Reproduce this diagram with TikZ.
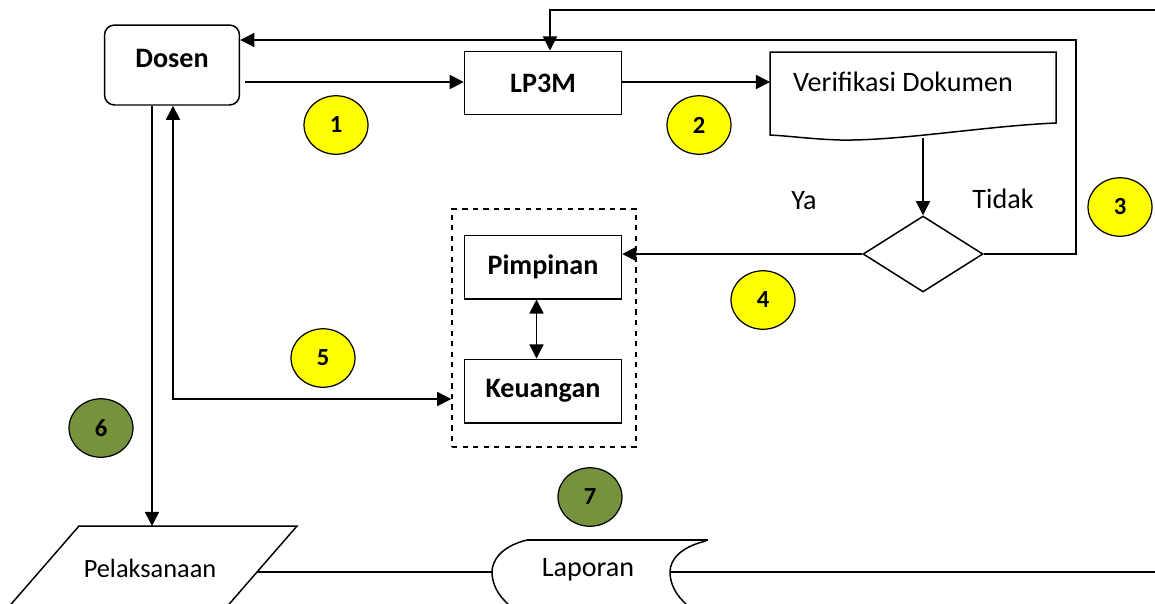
\documentclass[tikz,border=0pt]{standalone}
\usepackage{fontspec}
\setmainfont{Carlito}
\usetikzlibrary{arrows.meta,shapes.geometric}
\definecolor{markyellow}{HTML}{FFFF00}
\definecolor{markgreen}{HTML}{76923C}

\begin{document}
\begin{tikzpicture}[x=0.02cm, y=-0.02cm, line width=0.85pt,
    arr/.style={-{Triangle[length=8pt,width=8pt]}},
    dblarr/.style={{Triangle[length=8pt,width=8pt]}-{Triangle[length=8pt,width=8pt]}},
    procbox/.style={draw, minimum width=3.14cm, minimum height=1.27cm, inner sep=0pt, font=\fontsize{16}{19}\selectfont\bfseries},
    plain/.style={inner sep=0pt, font=\fontsize{16}{19}\selectfont},
    badge/.style={ellipse, draw, line width=0.7pt, minimum width=1.28cm, minimum height=1.17cm, inner sep=0pt, font=\fontsize{14}{16}\selectfont\bfseries},
  ]
  \useasboundingbox (0,0) rectangle (1155,603);
  \clip (0,0) rectangle (1155,603);

  % Main nodes
  \node[draw, rounded corners=0.2cm, minimum width=2.7cm, minimum height=1.6cm,
        label={[font=\fontsize{16}{19}\selectfont\bfseries, yshift=0.14cm]center:Dosen}] (dosen) at (172,65) {};
  \node[procbox] (lp3m) at (543,83) {LP3M};
  \node[plain] (verif) at (903,82) {Verifikasi Dokumen};
  \node[diamond, draw, minimum width=2.4cm, minimum height=1.52cm, inner sep=0pt] (dec) at (923,254) {};
  \node[plain] (ya) at (804,201) {Ya};
  \node[plain] (tidak) at (1003,199) {Tidak};

  % Pimpinan / Keuangan group
  \node[draw, dashed, minimum width=3.68cm, minimum height=4.76cm] (grp) at (544,328) {};
  \node[procbox] (pimp) at (543,267) {Pimpinan};
  \node[procbox] (keu) at (543,391) {Keuangan};

  % Outputs
  \node[plain, font=\fontsize{15}{18}\selectfont] (pel) at (150,568) {Pelaksanaan};
  \node[plain] (lap) at (588,570) {Laporan};

  % Shape outlines
  \draw (770,52) -- (1056,52) -- (1056,123)
    .. controls (985,126) and (900,141) .. (840,140)
    .. controls (810,139) and (790,136) .. (770,135) -- cycle;
  \draw (79,526) -- (297,526) -- (224,610) -- (6,610) -- cycle;
  \draw (527,540) -- (708,540);
  \draw (527,540) .. controls (502,546) and (492,560) .. (492,572)
    .. controls (492,588) and (502,600) .. (515,610);
  \draw (706,541) .. controls (680,547) and (670,560) .. (670,572)
    .. controls (670,588) and (680,600) .. (693,610);

  % Helper coordinates
  \coordinate (verifL) at (770,82);
  \coordinate (verifB) at (923,138);
  \coordinate (loopR) at (1076,40);
  \coordinate (topR) at (1155,10);
  \coordinate (topL) at (550,10);
  \coordinate (pelT) at (152,526);
  \coordinate (pelR) at (257,572);
  \coordinate (lapL) at (492,572);
  \coordinate (lapR) at (670,572);
  \coordinate (endR) at (1155,572);
  \coordinate (back) at (173,399);

  % Connections
  \draw[arr] (dosen.east |- verifL) ++(0.1cm,0) -- (verifL -| lp3m.west);
  \draw[arr] (verifL -| lp3m.east) -- (verifL);
  \draw[arr] (verifB) -- (dec.north);
  \draw[arr] (dec.east) -| (loopR) -- (loopR -| dosen.east);
  \draw[arr] (topR) -- (topL) -- (topL |- lp3m.north);
  \draw[arr] (dec.west) -- (dec.west -| pimp.east);
  \draw[dblarr] ([xshift=-0.13cm]pimp.south) -- ([xshift=-0.13cm]keu.north);
  \draw[dblarr] (back |- dosen.south) -- (back) -- (back -| grp.west);
  \draw[arr] (pelT |- dosen.south) -- (pelT);
  \draw (pelR) -- (lapL);
  \draw (lapR) -- (endR);

  % Step badges
  \node[badge, fill=markyellow] (n1) at (336,125) {1};
  \node[badge, fill=markyellow] (n2) at (699,125) {2};
  \node[badge, fill=markyellow] (n3) at (1120,207) {3};
  \node[badge, fill=markyellow] (n4) at (763,300) {4};
  \node[badge, fill=markyellow] (n5) at (323,358) {5};
  \node[badge, fill=markgreen] (n6) at (101,428) {6};
  \node[badge, fill=markgreen] (n7) at (590,497) {7};
\end{tikzpicture}
\end{document}
